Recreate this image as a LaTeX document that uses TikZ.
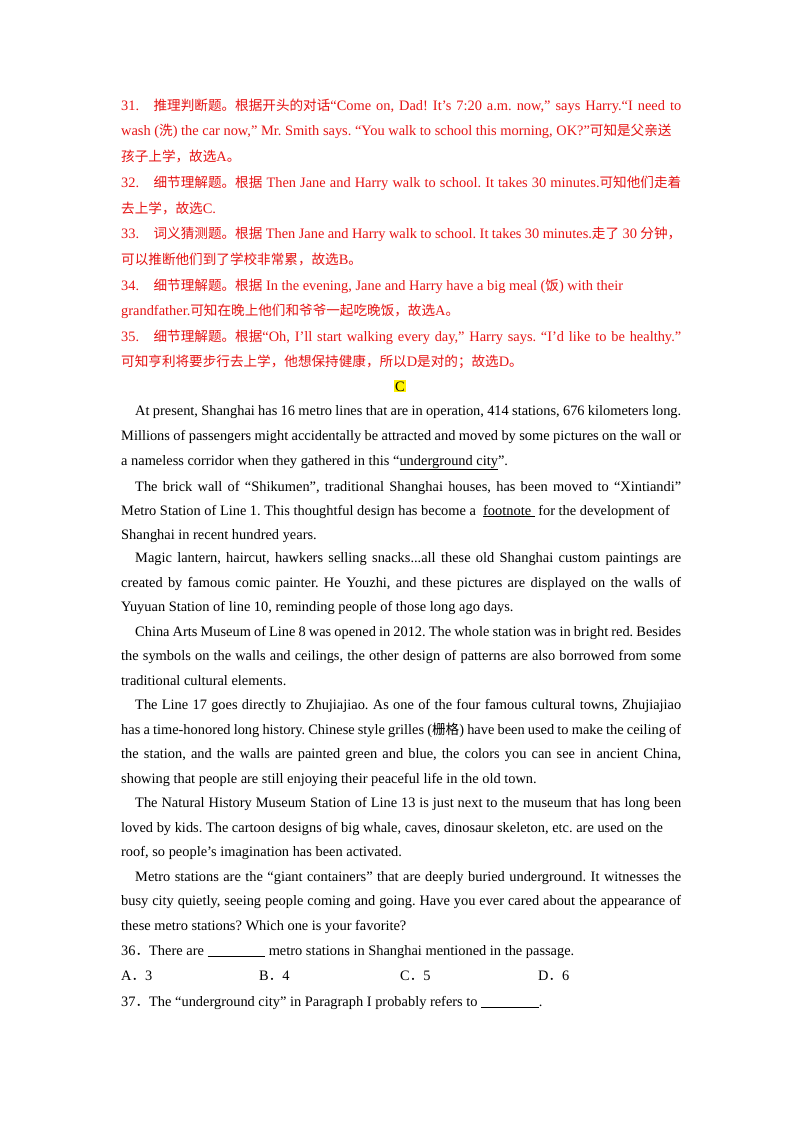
\documentclass[tikz,border=0pt]{standalone}
\usepackage{fontspec}
\setmainfont{Liberation Serif}
\newfontfamily\cjk{Noto Sans CJK SC}
\definecolor{rd}{RGB}{230,20,20}
\newcommand{\zh}[1]{{\cjk\fontsize{13.6pt}{14pt}\selectfont #1}}
\newcommand{\nofill}{\parfillskip=0pt\relax}
\frenchspacing
\begin{document}
\begin{tikzpicture}[x=1pt,y=-1pt,
  every node/.style={inner sep=0pt,anchor=base west,font=\fontsize{14.4pt}{16pt}\selectfont},
  jl/.style={text width=#1,align=justify,execute at begin node=\nofill},
  jl/.default=560pt,
  red/.style={text=rd}]
\useasboundingbox (0,0) rectangle (800,1132);
\fill[white] (0,0) rectangle (800,1132);
% red section
\node[red,jl] (r1) at (121,110) {31.\hspace{1em}\zh{推理判断题。根据开头的对话}“Come on, Dad! It’s 7:20 a.m. now,” says Harry.“I need to};
\node[red] (r2) at (121,135) {wash (\zh{洗}) the car now,” Mr. Smith says. “You walk to school this morning, OK?”\zh{可知是父亲送}};
\node[red] (r3) at (121,161) {\zh{孩子上学，故选}A\zh{。}};
\node[red,jl] (r4) at (121,187) {32.\hspace{1em}\zh{细节理解题。根据} Then Jane and Harry walk to school. It takes 30 minutes.\zh{可知他们走着}};
\node[red] (r5) at (121,213) {\zh{去上学，故选}C.};
\node[red,jl] (r6) at (121,238) {33.\hspace{1em}\zh{词义猜测题。根据} Then Jane and Harry walk to school. It takes 30 minutes.\zh{走了} 30 \zh{分钟，}};
\node[red] (r7) at (121,264) {\zh{可以推断他们到了学校非常累，故选}B\zh{。}};
\node[red] (r8) at (121,290) {34.\hspace{1em}\zh{细节理解题。根据} In the evening, Jane and Harry have a big meal (\zh{饭}) with their};
\node[red] (r9) at (121,315) {grandfather.\zh{可知在晚上他们和爷爷一起吃晚饭，故选}A\zh{。}};
\node[red,jl] (r10) at (121,341) {35.\hspace{1em}\zh{细节理解题。根据}“Oh, I’ll start walking every day,” Harry says. “I’d like to be healthy.”};
\node[red] (r11) at (121,366) {\zh{可知亨利将要步行去上学，他想保持健康，所以}D\zh{是对的；故选}D\zh{。}};
\node[anchor=base,fill=yellow,inner sep=1pt] (c) at (400,391) {C};
% passage
\node[jl=546pt] (p1) at (135,415) {At present, Shanghai has 16 metro lines that are in operation, 414 stations, 676 kilometers long.};
\node[jl] (p2) at (121,440) {Millions of passengers might accidentally be attracted and moved by some pictures on the wall or};
\node (p3) at (121,465) {a nameless corridor when they gathered in this “\underline{underground city}”.};
\node[jl=546pt] (p4) at (135,491) {The brick wall of “Shikumen”, traditional Shanghai houses, has been moved to “Xintiandi”};
\node (p5) at (121,515) {Metro Station of Line 1. This thoughtful design has become a \ \underline{footnote\ } for the development of};
\node (p6) at (121,539) {Shanghai in recent hundred years.};
\node[jl=546pt] (p7) at (135,562) {Magic lantern, haircut, hawkers selling snacks...all these old Shanghai custom paintings are};
\node[jl] (p8) at (121,587) {created by famous comic painter. He Youzhi, and these pictures are displayed on the walls of};
\node (p9) at (121,611) {Yuyuan Station of line 10, reminding people of those long ago days.};
\node[jl=546pt] (p10) at (135,636) {China Arts Museum of Line 8 was opened in 2012. The whole station was in bright red. Besides};
\node[jl] (p11) at (121,660) {the symbols on the walls and ceilings, the other design of patterns are also borrowed from some};
\node (p12) at (121,685) {traditional cultural elements.};
\node[jl=546pt] (p13) at (135,709) {The Line 17 goes directly to Zhujiajiao. As one of the four famous cultural towns, Zhujiajiao};
\node[jl] (p14) at (121,734) {has a time-honored long history. Chinese style grilles (\zh{栅格}) have been used to make the ceiling of};
\node[jl] (p15) at (121,758) {the station, and the walls are painted green and blue, the colors you can see in ancient China,};
\node (p16) at (121,783) {showing that people are still enjoying their peaceful life in the old town.};
\node[jl=546pt] (p17) at (135,807) {The Natural History Museum Station of Line 13 is just next to the museum that has long been};
\node (p18) at (121,832) {loved by kids. The cartoon designs of big whale, caves, dinosaur skeleton, etc. are used on the};
\node (p19) at (121,856) {roof, so people’s imagination has been activated.};
\node[jl=546pt] (p20) at (135,881) {Metro stations are the “giant containers” that are deeply buried underground. It witnesses the};
\node[jl] (p21) at (121,905) {busy city quietly, seeing people coming and going. Have you ever cared about the appearance of};
\node (p22) at (121,930) {these metro stations? Which one is your favorite?};
\node (q36) at (121,955) {36\zh{．}There are \underline{\hspace{4em}} metro stations in Shanghai mentioned in the passage.};
\node (a) at (121,980) {A\zh{．}3};
\node (b) at (259,980) {B\zh{．}4};
\node (cc) at (400,980) {C\zh{．}5};
\node (d) at (538,980) {D\zh{．}6};
\node (q37) at (121,1006) {37\zh{．}The “underground city” in Paragraph I probably refers to \underline{\hspace{4em}}.};
\end{tikzpicture}
\end{document}
